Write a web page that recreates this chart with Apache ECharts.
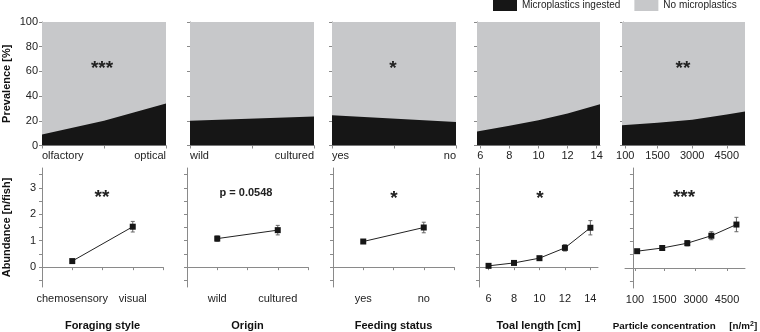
<!DOCTYPE html>
<html>
<head>
<meta charset="utf-8">
<script src="https://cdn.jsdelivr.net/npm/echarts@6/dist/echarts.min.js"></script>
<style>
  html, body { margin: 0; padding: 0; background: #fff; }
  #chart { width: 760px; height: 332px; }
</style>
</head>
<body>
<div id="chart"></div>
<script>
// Prevalence [%] – top row (x position along each axis, % with microplastics)
const foragingCats = ['olfactory', 'optical'];
const prevForagingX = [0, 0.5, 1];
const prevForagingY = [9, 20, 34];

const originCats = ['wild', 'cultured'];
const prevOriginX = [0, 1];
const prevOriginY = [20, 23.5];

const feedingCats = ['yes', 'no'];
const prevFeedingX = [0, 1];
const prevFeedingY = [24.5, 19];

const lengthTicks = [6, 8, 10, 12, 14];
const prevLengthX = [5.77, 8, 10, 12, 14.23];
const prevLengthY = [11.4, 16, 20.5, 26, 33.5];

const concTicks = [100, 1500, 3000, 4500];
const prevConcX = [-43, 1500, 3000, 4500, 5290];
const prevConcY = [16.3, 18.4, 20.9, 25.2, 27.6];

// Abundance [n/fish] – bottom row (mean and error)
const foragingCats2 = ['chemosensory', 'visual'];
const abForaging = [0.23, 1.53];
const errForaging = [0.06, 0.2];

const abOrigin = [1.08, 1.40];
const errOrigin = [0.1, 0.18];

const abFeeding = [0.97, 1.5];
const errFeeding = [0.07, 0.2];

const abLengthX = [6, 8, 10, 12, 14];
const abLength = [0.05, 0.16, 0.34, 0.73, 1.49];
const errLength = [0.03, 0.05, 0.06, 0.12, 0.27];

const abConcX = [200, 1400, 2600, 3750, 4950];
const abConc = [0.63, 0.75, 0.93, 1.21, 1.63];
const errConc = [0.05, 0.06, 0.1, 0.15, 0.27];

const abTicks = [0, 1, 2, 3];
const abMinor = [-0.5, 0, 0.5, 1, 1.5, 2, 2.5, 3, 3.5];

const BLACK = '#161616';
const GRAY = '#c7c8ca';
const AXIS = '#8a8a8a';
const FONT = 'Liberation Sans, Arial, sans-serif';

const chart = echarts.init(document.getElementById('chart'));

const topLefts = [42, 190, 332, 477, 622];
const topWidths = [124, 124, 124, 123, 123];
const botLefts = [42, 187, 333, 479, 625];
const botWidths = [121, 121, 121, 119, 120];

const grids = [];
topLefts.forEach((l, i) => grids.push({ left: l, width: topWidths[i], top: 22, height: 123.5 }));
botLefts.forEach((l, i) => grids.push({ left: l, width: botWidths[i], top: 168, height: 123 }));

const lblStyle = { color: '#222', fontSize: 11, fontFamily: FONT, hideOverlap: false };
const nameStyle = { color: '#111', fontSize: 11, fontWeight: 'bold', fontFamily: FONT };
const num = v => String(v);

function axisBase(gi) {
  return {
    gridIndex: gi,
    axisLine: { lineStyle: { color: AXIS, width: 1 } },
    axisTick: { length: 3, lineStyle: { color: AXIS } },
    splitLine: { show: false },
    axisLabel: Object.assign({ margin: 4 }, lblStyle)
  };
}

// top x axes
function topCatX(gi, cats) {
  return Object.assign(axisBase(gi), {
    type: 'value', min: 0, max: 1, interval: 0.5,
    axisLabel: Object.assign({ margin: 5, alignMinLabel: 'left', alignMaxLabel: 'right',
      customValues: [0, 1], formatter: v => cats[v] }, lblStyle)
  });
}
const xAxes = [
  topCatX(0, foragingCats),
  topCatX(1, originCats),
  topCatX(2, feedingCats),
  Object.assign(axisBase(3), {
    type: 'value', min: prevLengthX[0], max: prevLengthX[prevLengthX.length - 1],
    axisTick: { length: 3, lineStyle: { color: AXIS }, customValues: lengthTicks },
    axisLabel: Object.assign({ margin: 5, customValues: lengthTicks, formatter: num }, lblStyle)
  }),
  Object.assign(axisBase(4), {
    type: 'value', min: prevConcX[0], max: prevConcX[prevConcX.length - 1],
    axisTick: { length: 3, lineStyle: { color: AXIS }, customValues: concTicks },
    axisLabel: Object.assign({ margin: 5, customValues: concTicks, formatter: num }, lblStyle)
  })
];

// bottom x axes
function botCatX(gi, cats, name) {
  return Object.assign(axisBase(gi), {
    type: 'value', min: 0.5, max: 2.5, interval: 0.5,
    axisLabel: Object.assign({ margin: 6, customValues: [1, 2], formatter: v => cats[v - 1] }, lblStyle),
    name: name, nameLocation: 'middle', nameGap: 33, nameTextStyle: nameStyle
  });
}
xAxes.push(
  botCatX(5, foragingCats2, 'Foraging style'),
  botCatX(6, originCats, 'Origin'),
  botCatX(7, feedingCats, 'Feeding status'),
  Object.assign(axisBase(8), {
    type: 'value', min: 5.25, max: 14.6,
    axisTick: { length: 3, lineStyle: { color: AXIS }, customValues: lengthTicks },
    axisLabel: Object.assign({ margin: 6, customValues: lengthTicks, formatter: num }, lblStyle),
    name: 'Toal length [cm]', nameLocation: 'middle', nameGap: 33, nameTextStyle: nameStyle
  }),
  Object.assign(axisBase(9), {
    type: 'value', min: -380, max: 5360,
    axisTick: { length: 3, lineStyle: { color: AXIS }, customValues: concTicks },
    axisLabel: Object.assign({ margin: 6, customValues: concTicks, formatter: num }, lblStyle),
    name: 'Particle concentration     [n/m{sup|2}]', nameLocation: 'middle', nameGap: 33,
    nameTextStyle: Object.assign({}, nameStyle, { fontSize: 9.8,
      rich: { sup: { fontSize: 7, fontWeight: 'bold', verticalAlign: 'top', fontFamily: FONT, color: '#111' } } })
  })
);

const yAxes = [];
for (let i = 0; i < 5; i++) {
  yAxes.push(Object.assign(axisBase(i), {
    type: 'value', min: 0, max: 100, interval: 20,
    axisLabel: Object.assign({ show: i === 0, margin: 4 }, lblStyle),
    name: i === 0 ? 'Prevalence [%]' : '', nameLocation: 'middle', nameGap: 30, nameRotate: 90,
    nameTextStyle: nameStyle
  }));
}
for (let i = 0; i < 5; i++) {
  yAxes.push(Object.assign(axisBase(5 + i), {
    type: 'value', min: -0.75, max: 3.75,
    axisTick: { length: 3, lineStyle: { color: AXIS }, customValues: abMinor },
    axisLabel: Object.assign({ show: i === 0, margin: 6, customValues: abTicks, formatter: num }, lblStyle),
    name: i === 0 ? 'Abundance [n/fish]' : '', nameLocation: 'middle', nameGap: 30, nameRotate: 90,
    nameTextStyle: nameStyle
  }));
}

const series = [];
function prevPanel(gi, xs, ys) {
  series.push({
    name: 'No microplastics', type: 'line', xAxisIndex: gi, yAxisIndex: gi,
    data: xs.map(x => [x, 100]), showSymbol: false, silent: true,
    itemStyle: { color: GRAY }, lineStyle: { width: 0 }, areaStyle: { color: GRAY, opacity: 1 }
  });
  series.push({
    name: 'Microplastics ingested', type: 'line', xAxisIndex: gi, yAxisIndex: gi,
    data: xs.map((x, i) => [x, ys[i]]), showSymbol: false, silent: true,
    itemStyle: { color: BLACK }, lineStyle: { width: 0 }, areaStyle: { color: BLACK, opacity: 1 }
  });
}
prevPanel(0, prevForagingX, prevForagingY);
prevPanel(1, prevOriginX, prevOriginY);
prevPanel(2, prevFeedingX, prevFeedingY);
prevPanel(3, prevLengthX, prevLengthY);
prevPanel(4, prevConcX, prevConcY);

function abPanel(gi, xs, ys, errs) {
  series.push({
    type: 'custom', xAxisIndex: gi, yAxisIndex: gi, silent: true, z: 3,
    data: xs.map((x, i) => [x, ys[i] - errs[i], ys[i] + errs[i]]),
    encode: { x: 0, y: [1, 2] },
    renderItem: (params, api) => {
      const lo = api.coord([api.value(0), api.value(1)]);
      const hi = api.coord([api.value(0), api.value(2)]);
      const st = { stroke: '#666', lineWidth: 1 };
      return { type: 'group', children: [
        { type: 'line', shape: { x1: lo[0], y1: lo[1], x2: hi[0], y2: hi[1] }, style: st },
        { type: 'line', shape: { x1: lo[0] - 2, y1: lo[1], x2: lo[0] + 2, y2: lo[1] }, style: st },
        { type: 'line', shape: { x1: hi[0] - 2, y1: hi[1], x2: hi[0] + 2, y2: hi[1] }, style: st }
      ] };
    }
  });
  series.push({
    type: 'line', xAxisIndex: gi, yAxisIndex: gi, silent: true, z: 4,
    data: xs.map((x, i) => [x, ys[i]]),
    symbol: 'rect', symbolSize: 6, showSymbol: true,
    itemStyle: { color: BLACK }, lineStyle: { color: '#222', width: 1 }
  });
}
abPanel(5, [1, 2], abForaging, errForaging);
abPanel(6, [1, 2], abOrigin, errOrigin);
abPanel(7, [1, 2], abFeeding, errFeeding);
abPanel(8, abLengthX, abLength, errLength);
abPanel(9, abConcX, abConc, errConc);

// significance marks
const marks = [
  ['***', 102, 69], ['*', 393, 69], ['**', 683, 69],
  ['**', 102, 198], ['*', 394, 199], ['*', 540, 199], ['***', 684, 198]
];
const graphic = marks.map(m => ({
  type: 'text', x: m[1], y: m[2], z: 100,
  style: { text: m[0], fill: '#222', font: 'bold 19px ' + FONT, textAlign: 'center', textVerticalAlign: 'middle' }
}));
graphic.push({
  type: 'text', x: 246, y: 193, z: 100,
  style: { text: 'p = 0.0548', fill: '#222', font: 'bold 11px ' + FONT, textAlign: 'center', textVerticalAlign: 'middle' }
});

chart.setOption({
  animation: false,
  textStyle: { fontFamily: FONT },
  legend: {
    data: ['Microplastics ingested', 'No microplastics'],
    left: 493, top: 0, padding: 0, width: 267, icon: 'rect', itemWidth: 24, itemHeight: 11, itemGap: 14,
    textStyle: { color: '#222', fontSize: 10, fontFamily: FONT },
    selectedMode: false
  },
  grid: grids,
  xAxis: xAxes,
  yAxis: yAxes,
  series: series,
  graphic: graphic
});
</script>
</body>
</html>
